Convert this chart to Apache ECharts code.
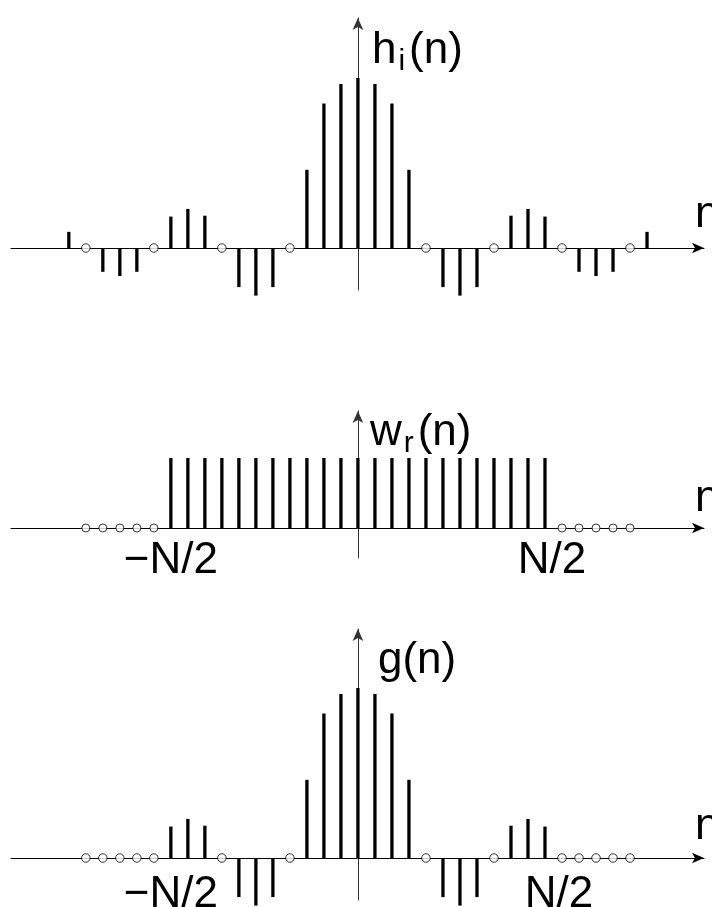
<!DOCTYPE html>
<html>
<head>
<meta charset="utf-8">
<style>
html,body{margin:0;padding:0;background:#fff;}
#c{width:712px;height:907px;}
</style>
<script src="https://cdn.jsdelivr.net/npm/echarts@6/dist/echarts.min.js"></script>
</head>
<body>
<div id="c"></div>
<script>
// ---- data ----
const nH = [-17,-16,-15,-14,-13,-12,-11,-10,-9,-8,-7,-6,-5,-4,-3,-2,-1,0,1,2,3,4,5,6,7,8,9,10,11,12,13,14,15,16,17];
const hVals = [0.095,0,-0.14,-0.165,-0.14,0,0.185,0.23,0.19,0,-0.23,-0.28,-0.23,0,0.46,0.85,0.965,1.0,0.965,0.85,0.46,0,-0.23,-0.28,-0.23,0,0.19,0.23,0.185,0,-0.14,-0.165,-0.14,0,0.095];
const nW = [-16,-15,-14,-13,-12,-11,-10,-9,-8,-7,-6,-5,-4,-3,-2,-1,0,1,2,3,4,5,6,7,8,9,10,11,12,13,14,15,16];
const wVals = [0,0,0,0,0,1,1,1,1,1,1,1,1,1,1,1,1,1,1,1,1,1,1,1,1,1,1,1,0,0,0,0,0];
const nG = [-16,-15,-14,-13,-12,-11,-10,-9,-8,-7,-6,-5,-4,-3,-2,-1,0,1,2,3,4,5,6,7,8,9,10,11,12,13,14,15,16];
const gVals = [0,0,0,0,0,0.185,0.23,0.19,0,-0.23,-0.28,-0.23,0,0.46,0.85,0.965,1.0,0.965,0.85,0.46,0,-0.23,-0.28,-0.23,0,0.19,0.23,0.185,0,0,0,0,0];
const edgeLabels = ['\u2212N/2', 'N/2'];
const edgeTicks = [-11, 11];

const FONT = 'Liberation Sans, Arial, sans-serif';

function stems(n, v) { const o=[]; n.forEach((x,i)=>{ if (v[i] !== 0) o.push([x, v[i]]); }); return o; }
function zeros(n, v) { const o=[]; n.forEach((x,i)=>{ if (v[i] === 0) o.push([x, 0]); }); return o; }

const chart = echarts.init(document.getElementById('c'), null, {renderer:'canvas'});

const grids = [
  {left: 11, width: 693, top: 18, height: 272, outerBoundsMode: 'none', containLabel: false},
  {left: 11, width: 693, top: 411, height: 147, outerBoundsMode: 'none', containLabel: false},
  {left: 11, width: 693, top: 629, height: 271, outerBoundsMode: 'none', containLabel: false}
];
const yRanges = [[-0.247, 1.353], [-0.4286, 1.671], [-0.247, 1.347]];
const yNames = [
  '{a|h}{s|i}{a|(n)}',
  '{a|w}{s|r}{a|(n)}',
  '{a|g(n)}'
];
const nameGaps = [-7, 4, -10];
const nameLeftPad = [14, 12, 20];
const nLabelPad = [11, 7, 9];
const showEdge = [false, true, true];
const edgeMargin = [8, -19, -27];

const xAxes = [], yAxes = [], series = [];
const datasets = [[nH, hVals], [nW, wVals], [nG, gVals]];
for (let k = 0; k < 3; k++) {
  xAxes.push({
    type: 'value', gridIndex: k, min: -20.4, max: 20.35,
    name: 'n', nameLocation: 'end', nameGap: -9,
    nameTextStyle: {fontSize: 44, fontFamily: FONT, color: '#000', align: 'left', verticalAlign: 'bottom', padding: [0,0,nLabelPad[k],0]},
    axisLine: {onZero: true, symbol: ['none','arrow'], symbolSize: [8, 12], lineStyle: {color: '#000', width: 1}},
    axisTick: {show: false},
    splitLine: {show: false},
    axisLabel: showEdge[k] ? {
      show: true, customValues: edgeTicks, margin: edgeMargin[k],
      fontSize: 44, fontFamily: FONT, color: '#000',
      formatter: function (val) { return val < 0 ? edgeLabels[0] : '{r|' + edgeLabels[1] + '}'; },
      rich: {r: {fontSize: 44, fontFamily: FONT, color: '#000', padding: [0,0,0, k === 1 ? 14 : 28]}}
    } : {show: false}
  });
  yAxes.push({
    type: 'value', gridIndex: k, min: yRanges[k][0], max: yRanges[k][1],
    name: yNames[k], nameLocation: 'end', nameGap: nameGaps[k],
    nameTextStyle: {
      align: 'left', verticalAlign: 'top', padding: [0,0,0,nameLeftPad[k]],
      rich: {
        a: {fontSize: 44, fontFamily: FONT, color: '#000'},
        s: {fontSize: 30, fontFamily: FONT, color: '#000', padding: [22,4,0,2]}
      }
    },
    axisLine: {onZero: true, symbol: ['none','arrow'], symbolSize: [8, 12], lineStyle: {color: '#333', width: 1}},
    axisTick: {show: false},
    splitLine: {show: false},
    axisLabel: {show: false}
  });
  const [nn, vv] = datasets[k];
  series.push({
    type: 'custom', xAxisIndex: k, yAxisIndex: k, z: 3,
    data: stems(nn, vv),
    renderItem: function (params, api) {
      const p0 = api.coord([api.value(0), 0]);
      const p1 = api.coord([api.value(0), api.value(1)]);
      return {type: 'line', shape: {x1: p0[0], y1: p0[1], x2: p1[0], y2: p1[1]},
        style: {stroke: '#000', lineWidth: 3.3, lineCap: 'butt'}};
    }
  });
  series.push({
    type: 'scatter', xAxisIndex: k, yAxisIndex: k, z: 4,
    data: zeros(nn, vv), symbol: 'circle', symbolSize: k === 1 ? 8 : 8.5,
    itemStyle: {color: '#fff', borderColor: '#000', borderWidth: 1}
  });
}

chart.setOption({
  animation: false,
  backgroundColor: '#fff',
  grid: grids,
  xAxis: xAxes,
  yAxis: yAxes,
  series: series
});
</script>
</body>
</html>
